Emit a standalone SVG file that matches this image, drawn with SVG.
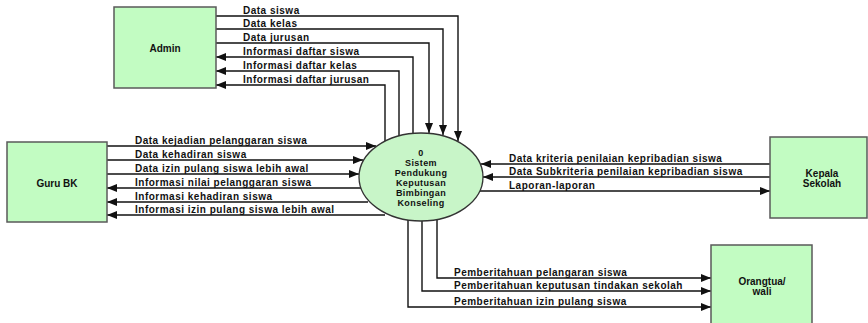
<svg xmlns="http://www.w3.org/2000/svg" width="868" height="323" viewBox="0 0 868 323">
<style>
.box{fill:#c2fcc2;stroke:#5a5a5a;stroke-width:1.5}
.proc{fill:#c8f5c8;stroke:#333;stroke-width:1.3}
.t{font-family:"Liberation Sans",Arial,sans-serif;font-weight:bold;font-size:10px;fill:#111;letter-spacing:0.5px}
.n{font-family:"Liberation Sans",Arial,sans-serif;font-weight:bold;font-size:10px;fill:#111;text-anchor:middle}
.e{font-family:"Liberation Sans",Arial,sans-serif;font-weight:bold;font-size:9px;fill:#111;text-anchor:middle;letter-spacing:0.4px}
.c{fill:none;stroke:#111;stroke-width:1.4}
</style>
<defs>
<marker id="ah" viewBox="0 0 10 8" refX="10" refY="4" markerWidth="10" markerHeight="8" markerUnits="userSpaceOnUse" orient="auto">
<path d="M0,0 L10,4 L0,8 Z" fill="#111"/>
</marker>
</defs>
<rect width="868" height="323" fill="#fff"/>
<g id="connectors">
<path class="c" d="M216,16 H458 V141" marker-end="url(#ah)"/>
<path class="c" d="M216,29 H443 V135" marker-end="url(#ah)"/>
<path class="c" d="M216,43 H429 V133" marker-end="url(#ah)"/>
<path class="c" d="M413,133 V57 H216" marker-end="url(#ah)"/>
<path class="c" d="M399,136 V71 H216" marker-end="url(#ah)"/>
<path class="c" d="M385,141 V85 H216" marker-end="url(#ah)"/>
<path class="c" d="M107,146 H376" marker-end="url(#ah)"/>
<path class="c" d="M107,160 H363" marker-end="url(#ah)"/>
<path class="c" d="M107,174 H359" marker-end="url(#ah)"/>
<path class="c" d="M361,188 H107" marker-end="url(#ah)"/>
<path class="c" d="M368,202 H107" marker-end="url(#ah)"/>
<path class="c" d="M385,215 H107" marker-end="url(#ah)"/>
<path class="c" d="M770,164 H481" marker-end="url(#ah)"/>
<path class="c" d="M770,177 H483" marker-end="url(#ah)"/>
<path class="c" d="M480,191 H770" marker-end="url(#ah)"/>
<path class="c" d="M437,219 V278 H711" marker-end="url(#ah)"/>
<path class="c" d="M422,221 V291 H711" marker-end="url(#ah)"/>
<path class="c" d="M408,220 V307 H711" marker-end="url(#ah)"/>
<text class="t" x="243" y="14">Data siswa</text>
<text class="t" x="243" y="27">Data kelas</text>
<text class="t" x="243" y="41">Data jurusan</text>
<text class="t" x="243" y="55">Informasi daftar siswa</text>
<text class="t" x="243" y="69">Informasi daftar kelas</text>
<text class="t" x="243" y="83">Informasi daftar jurusan</text>
<text class="t" x="135" y="144">Data kejadian pelanggaran siswa</text>
<text class="t" x="135" y="158">Data kehadiran siswa</text>
<text class="t" x="135" y="172">Data izin pulang siswa lebih awal</text>
<text class="t" x="135" y="186">Informasi nilai pelanggaran siswa</text>
<text class="t" x="135" y="200">Informasi kehadiran siswa</text>
<text class="t" x="135" y="213">Informasi izin pulang siswa lebih awal</text>
<text class="t" x="509" y="162">Data kriteria penilaian kepribadian siswa</text>
<text class="t" x="509" y="175">Data Subkriteria penilaian kepribadian siswa</text>
<text class="t" x="509" y="189">Laporan-laporan</text>
<text class="t" x="454" y="276">Pemberitahuan pelangaran siswa</text>
<text class="t" x="454" y="289">Pemberitahuan keputusan tindakan sekolah</text>
<text class="t" x="454" y="305">Pemberitahuan izin pulang siswa</text>
</g>
<g id="admin">
<rect class="box" x="114" y="7" width="102" height="81"/>
<text class="n" x="165" y="52">Admin</text>
</g>
<g id="gurubk">
<rect class="box" x="7" y="142" width="100" height="80"/>
<text class="n" x="57" y="187">Guru BK</text>
</g>
<g id="sistem">
<ellipse class="proc" cx="421" cy="177" rx="62" ry="44"/>
<text class="e" x="421" y="156">0</text>
<text class="e" x="421" y="166">Sistem</text>
<text class="e" x="421" y="176">Pendukung</text>
<text class="e" x="421" y="186">Keputusan</text>
<text class="e" x="421" y="196">Bimbingan</text>
<text class="e" x="421" y="206">Konseling</text>
</g>
<g id="kepala">
<rect class="box" x="770" y="137" width="97" height="81"/>
<text class="n" x="822" y="177">Kepala</text>
<text class="n" x="822" y="187">Sekolah</text>
</g>
<g id="orangtua">
<rect class="box" x="711" y="245" width="101" height="90"/>
<text class="n" x="762" y="285">Orangtua/</text>
<text class="n" x="762" y="295">wali</text>
</g>
</svg>
